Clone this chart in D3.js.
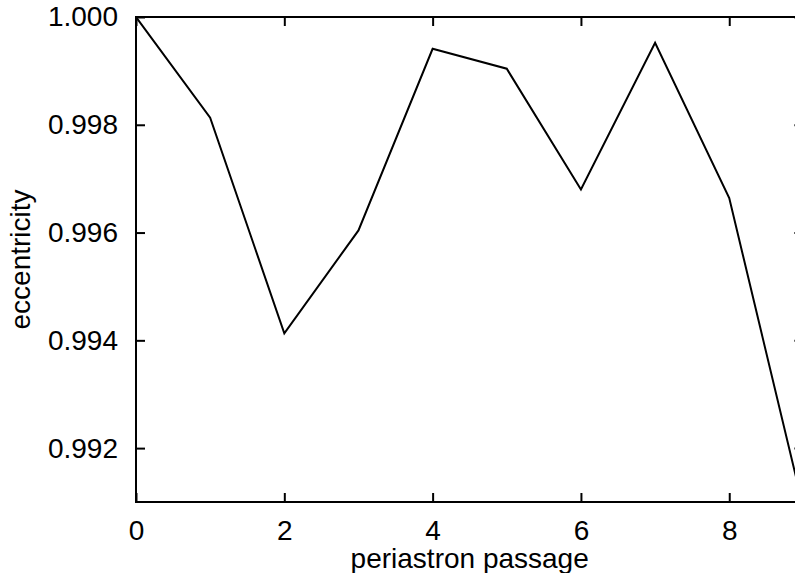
<!DOCTYPE html>
<html>
<head>
<meta charset="utf-8">
<script src="https://cdn.jsdelivr.net/npm/d3@7"></script>
<style>
  html, body { margin: 0; padding: 0; background: #fff; }
  svg { display: block; font-family: "Liberation Sans", Arial, Helvetica, sans-serif; }
</style>
</head>
<body>
<svg id="chart"></svg>
<script>
// periastron passage index and eccentricity
const passages = [ 0, 1, 2, 3, 4, 5, 6, 7, 8, 9 ] ;
const eccentricity = [ 1.0000, 0.99813, 0.99413, 0.99604, 0.99941, 0.99904, 0.99680, 0.99952, 0.99664, 0.99089 ] ;
const xTicks = [ 0, 2, 4, 6, 8 ] ;
const yTicks = [ 0.992, 0.994, 0.996, 0.998, 1.000 ] ;
const xDomain = [ 0, 9 ] ;
const yDomain = [ 0.991, 1.000 ] ;

const geom = {
	width: 795,
	height: 573,
	margins: { left: 136, top: 17, right: -8.4, bottom: 71 }
} ;

const scales = {
	x: d3.scaleLinear()
		.domain( xDomain )
		.range( [ geom.margins.left, geom.width - geom.margins.right ] ),
	y: d3.scaleLinear()
		.domain( yDomain )
		.range( [ geom.height - geom.margins.bottom, geom.margins.top ] )
} ;

const svg = d3.select( '#chart' )
	.attr( 'width', geom.width )
	.attr( 'height', geom.height ) ;

const x0 = scales.x.range()[0], x1 = scales.x.range()[1] ;
const yb = scales.y.range()[0], yt = scales.y.range()[1] ;

svg.append( 'defs' ).append( 'clipPath' )
	.attr( 'id', 'plot-clip' )
	.append( 'rect' )
	.attr( 'x', x0 ).attr( 'y', yt )
	.attr( 'width', x1 - x0 ).attr( 'height', yb - yt ) ;

// bottom axis, ticks pointing inwards
svg.append( 'g' )
	.attr( 'transform', 'translate(0 ' + yb + ')' )
	.call( d3.axisBottom( scales.x ).tickValues( xTicks ).tickFormat( d3.format( 'd' ) )
		.tickSizeInner( -9 ).tickSizeOuter( 0 ).tickPadding( 18 ) )
	.call( g => g.select( '.domain' ).remove() )
	.attr( 'font-size', '28px' )
	.attr( 'font-family', null ) ;

// top mirror ticks
svg.append( 'g' )
	.attr( 'transform', 'translate(0 ' + yt + ')' )
	.call( d3.axisTop( scales.x ).tickValues( xTicks ).tickFormat( '' )
		.tickSizeInner( -9 ).tickSizeOuter( 0 ) )
	.call( g => g.select( '.domain' ).remove() ) ;

// left axis
svg.append( 'g' )
	.attr( 'transform', 'translate(' + x0 + ' 0)' )
	.call( d3.axisLeft( scales.y ).tickValues( yTicks ).tickFormat( d3.format( '.3f' ) )
		.tickSizeInner( -9 ).tickSizeOuter( 0 ).tickPadding( 18 ) )
	.call( g => g.select( '.domain' ).remove() )
	.attr( 'font-size', '28px' )
	.attr( 'font-family', null ) ;

// right mirror ticks
svg.append( 'g' )
	.attr( 'transform', 'translate(' + x1 + ' 0)' )
	.call( d3.axisRight( scales.y ).tickValues( yTicks ).tickFormat( '' )
		.tickSizeInner( -9 ).tickSizeOuter( 0 ) )
	.call( g => g.select( '.domain' ).remove() ) ;

svg.selectAll( '.tick line' )
	.attr( 'stroke', '#000' )
	.attr( 'stroke-width', 2 ) ;
svg.selectAll( '.tick text' )
	.attr( 'fill', '#000' ) ;

// frame
svg.append( 'rect' )
	.attr( 'x', x0 ).attr( 'y', yt )
	.attr( 'width', x1 - x0 ).attr( 'height', yb - yt )
	.attr( 'fill', 'none' )
	.attr( 'stroke', '#000' )
	.attr( 'stroke-width', 2 ) ;

// data line
const line = d3.line()
	.x( (d, i) => scales.x( passages[i] ) )
	.y( d => scales.y( d ) ) ;

svg.append( 'path' )
	.datum( eccentricity )
	.attr( 'clip-path', 'url(#plot-clip)' )
	.attr( 'd', line )
	.attr( 'fill', 'none' )
	.attr( 'stroke', '#000' )
	.attr( 'stroke-width', 2 )
	.attr( 'stroke-linejoin', 'miter' ) ;

// axis titles
svg.append( 'text' )
	.attr( 'x', (x0 + x1) / 2 )
	.attr( 'y', 568 )
	.attr( 'text-anchor', 'middle' )
	.attr( 'font-size', '28px' )
	.text( 'periastron passage' ) ;

svg.append( 'text' )
	.attr( 'transform', 'translate(30 ' + ((yt + yb) / 2) + ') rotate(-90)' )
	.attr( 'text-anchor', 'middle' )
	.attr( 'font-size', '28px' )
	.text( 'eccentricity' ) ;
</script>
</body>
</html>
